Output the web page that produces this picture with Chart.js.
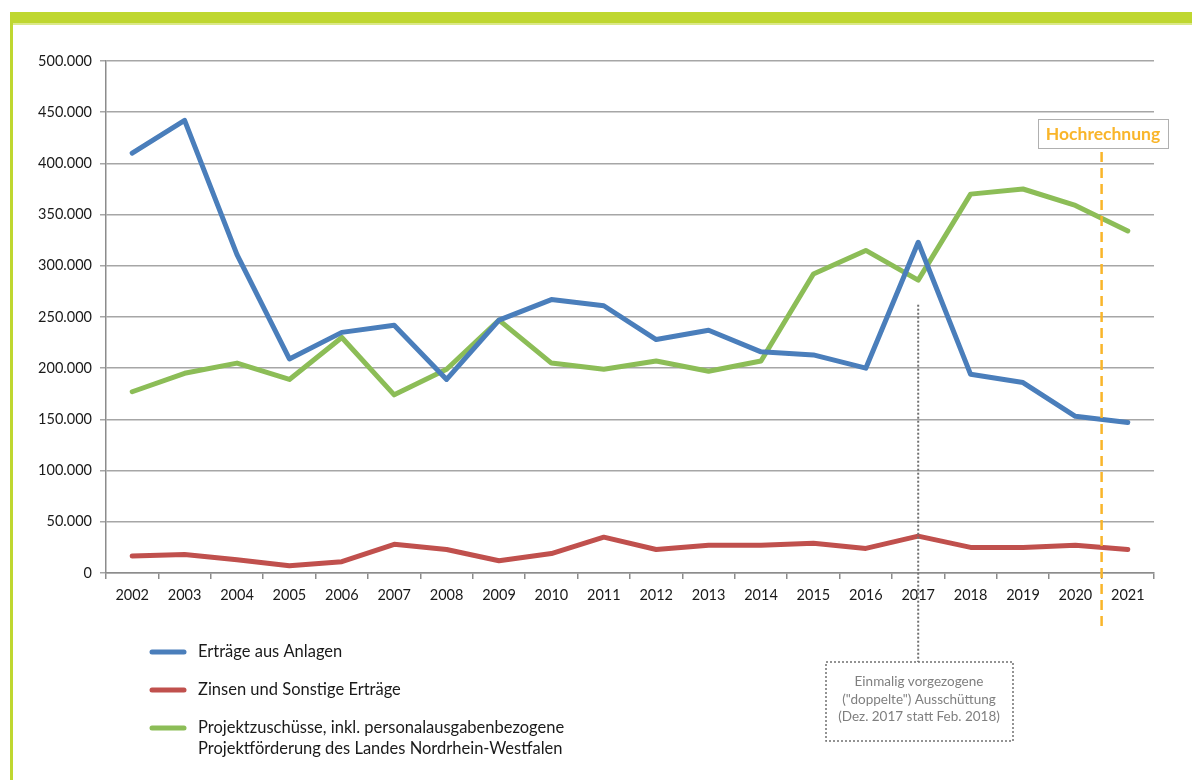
<!DOCTYPE html>
<html lang="de">
<head>
<meta charset="utf-8">
<title>Erträge</title>
<script src="https://cdn.jsdelivr.net/npm/chart.js@4.4.1/dist/chart.umd.min.js"></script>
<style>
  html, body { margin: 0; padding: 0; background: #fff; }
  #wrap { position: relative; width: 1192px; height: 780px; overflow: hidden; }
  #frame { position: absolute; left: 10px; top: 12px; right: 0; bottom: 0;
           border-top: 11px solid #bfd730; border-left: 3px solid #bfd730; }
  #frame::after { content: ''; position: absolute; left: 0; right: 0; top: 0; height: 2px; background: #dbe98a; }
  canvas { position: absolute; left: 0; top: 0; }
</style>
</head>
<body>
<div id="wrap">
  <div id="frame"></div>
  <canvas id="ertraegeChart" width="1192" height="780"></canvas>
</div>
<script>
// Daten
const years = ['2002', '2003', '2004', '2005', '2006', '2007', '2008', '2009', '2010', '2011',
               '2012', '2013', '2014', '2015', '2016', '2017', '2018', '2019', '2020', '2021'];
const ertraegeAnlagen = [410000, 442000, 311000, 209000, 235000, 242000, 189000, 247000, 267000, 261000,
                         228000, 237000, 216000, 213000, 200000, 323000, 194000, 186000, 153000, 147000];
const zinsenSonstige = [16500, 18000, 13000, 7000, 11000, 28000, 23000, 12000, 19000, 35000,
                        23000, 27000, 27000, 29000, 24000, 36000, 25000, 25000, 27000, 23000];
const projektzuschuesse = [177000, 195000, 205000, 189000, 230000, 174000, 199000, 247000, 205000, 199000,
                           207000, 197000, 207000, 292000, 315000, 286000, 370000, 375000, 359000, 334000];
const yTicks = [0, 50000, 100000, 150000, 200000, 250000, 300000, 350000, 400000, 450000, 500000];
const seriesLabels = [
    ['Erträge aus Anlagen'],
    ['Zinsen und Sonstige Erträge'],
    ['Projektzuschüsse, inkl. personalausgabenbezogene', 'Projektförderung des Landes Nordrhein-Westfalen']
];
const forecastYear = '2021';
const forecastLabel = 'Hochrechnung';
const noteYear = '2017';
const noteLines = ['Einmalig vorgezogene', '("doppelte") Ausschüttung', '(Dez. 2017 statt Feb. 2018)'];

const colors = ['#4a7ebb', '#c0504d', '#8cbd57'];
const FONT = 'Lato, "Open Sans", sans-serif';

function formatDE(v) {
    return String(v).replace(/\B(?=(\d{3})+(?!\d))/g, '.');
}

// Legende, Hochrechnung und Anmerkung
const extrasPlugin = {
    id: 'extras',
    afterDatasetsDraw(chart) {
        const ctx = chart.ctx;
        const x = chart.scales.x;
        const y = chart.scales.y;
        ctx.save();

        // Anmerkung 2017
        const nx = x.getPixelForValue(years.indexOf(noteYear));
        ctx.strokeStyle = '#707070';
        ctx.lineWidth = 2;
        ctx.setLineDash([2, 2]);
        ctx.beginPath();
        ctx.moveTo(nx, y.getPixelForValue(262000));
        ctx.lineTo(nx, 662);
        ctx.stroke();
        ctx.lineWidth = 1.5;
        ctx.strokeRect(826, 662, 187, 79);
        ctx.setLineDash([]);
        ctx.fillStyle = '#7f7f7f';
        ctx.font = '13.5px ' + FONT;
        ctx.textAlign = 'center';
        ctx.textBaseline = 'middle';
        noteLines.forEach((t, i) => ctx.fillText(t, 919, 682 + i * 17.5));

        // Hochrechnung
        const fi = years.indexOf(forecastYear);
        const fx = (x.getPixelForValue(fi - 1) + x.getPixelForValue(fi)) / 2;
        ctx.strokeStyle = '#f9b52a';
        ctx.lineWidth = 2.5;
        ctx.setLineDash([10, 6]);
        ctx.beginPath();
        ctx.moveTo(fx, 152);
        ctx.lineTo(fx, 632);
        ctx.stroke();
        ctx.setLineDash([]);
        ctx.fillStyle = '#ffffff';
        ctx.fillRect(1038, 119, 130, 29);
        ctx.strokeStyle = '#b0b0b0';
        ctx.lineWidth = 1;
        ctx.strokeRect(1038.5, 119.5, 130, 29);
        ctx.fillStyle = '#f9b52a';
        ctx.font = 'bold 17.5px ' + FONT;
        ctx.fillText(forecastLabel, 1103, 134);

        // Legende
        ctx.textAlign = 'left';
        ctx.font = '16.5px ' + FONT;
        ctx.lineCap = 'round';
        ctx.lineWidth = 5;
        const legendY = [652, 690, 728];
        seriesLabels.forEach((lines, i) => {
            ctx.strokeStyle = colors[i];
            ctx.beginPath();
            ctx.moveTo(152, legendY[i]);
            ctx.lineTo(184, legendY[i]);
            ctx.stroke();
            ctx.fillStyle = '#1a1a1a';
            lines.forEach((t, j) => ctx.fillText(t, 198, legendY[i] + j * 21));
        });
        ctx.restore();
    }
};

const ertraegeChart = document.getElementById('ertraegeChart').getContext('2d');
const ertraege = new Chart(ertraegeChart, {
    type: 'line',
    data: {
        labels: years,
        datasets: [{
            label: seriesLabels[0].join(' '),
            data: ertraegeAnlagen,
            borderColor: colors[0],
            borderWidth: 5
        }, {
            label: seriesLabels[1].join(' '),
            data: zinsenSonstige,
            borderColor: colors[1],
            borderWidth: 5
        }, {
            label: seriesLabels[2].join(' '),
            data: projektzuschuesse,
            borderColor: colors[2],
            borderWidth: 5
        }]
    },
    options: {
        responsive: false,
        animation: false,
        events: [],
        elements: {
            point: { radius: 0 },
            line: { tension: 0, borderJoinStyle: 'round', borderCapStyle: 'round' }
        },
        layout: {
            padding: { left: 20, top: 61, right: 38, bottom: 0 }
        },
        plugins: {
            legend: { display: false },
            tooltip: { enabled: false }
        },
        scales: {
            x: {
                offset: true,
                grid: { offset: true, drawOnChartArea: false, drawTicks: true, tickLength: 6, color: '#8c8c8c', lineWidth: 1.5 },
                border: { color: '#8c8c8c', width: 1.5 },
                ticks: { color: '#1a1a1a', font: { family: FONT, size: 14.5 }, padding: 8, maxRotation: 0, autoSkip: false },
                afterFit(scale) { scale.height = 207; }
            },
            y: {
                min: 0,
                max: 500000,
                afterBuildTicks(scale) { scale.ticks = yTicks.map(v => ({ value: v })); },
                grid: { color: '#a6a6a6', lineWidth: 1.5, tickLength: 6 },
                border: { color: '#8c8c8c', width: 1.5 },
                ticks: {
                    color: '#1a1a1a',
                    font: { family: FONT, size: 14.5 },
                    padding: 8,
                    callback: v => formatDE(v)
                },
                afterFit(scale) { scale.width = 86; }
            }
        }
    },
    plugins: [extrasPlugin]
});
</script>
</body>
</html>
